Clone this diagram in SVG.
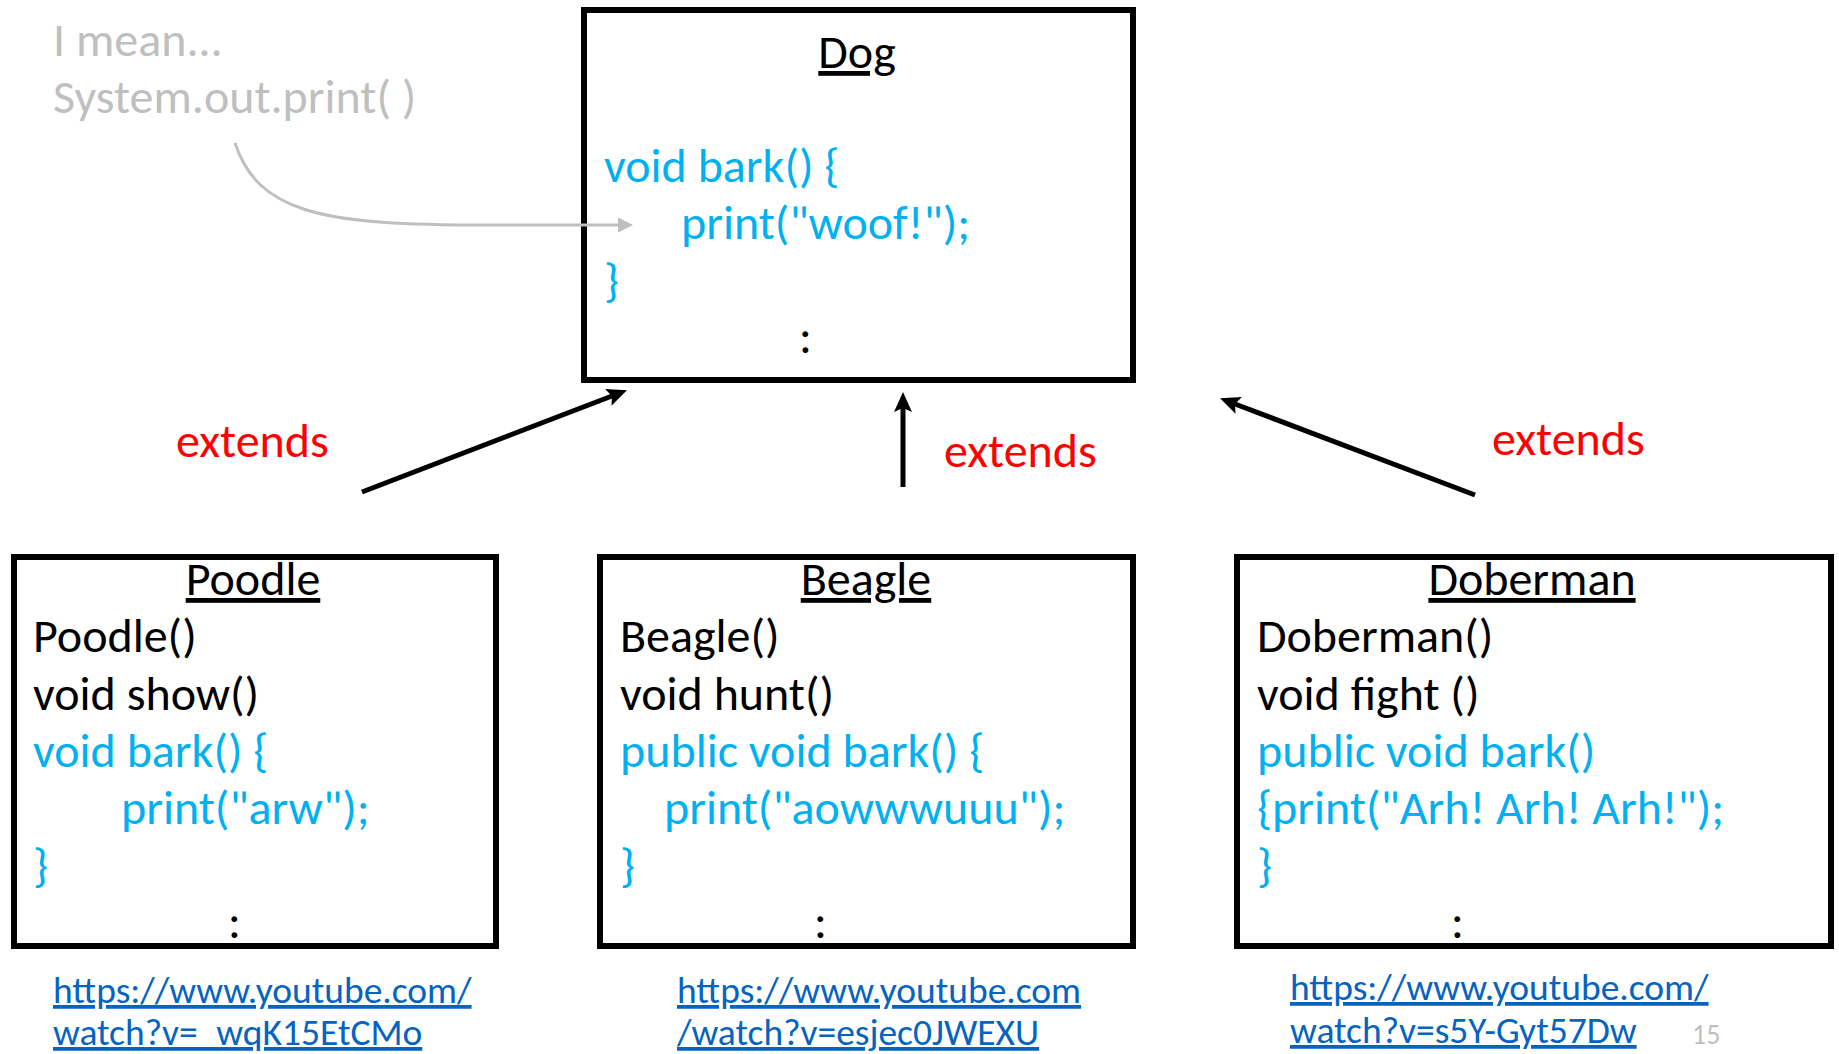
<svg xmlns="http://www.w3.org/2000/svg" width="1839" height="1054" viewBox="0 0 1839 1054">
  <style>
    text { font-family: Carlito, Lato, "Liberation Sans", sans-serif; font-size: 48px; }
    .k { fill: #000000; }
    .b { fill: #00b0f0; }
    .r { fill: #ff0000; }
    .g { fill: #bfbfbf; }
    .u { text-decoration: underline; }
    .mid { text-anchor: middle; }
    .lnk { fill: #0563c1; font-size: 37.5px; text-decoration: underline; }
    .pg { fill: #bfbfbf; font-size: 28px; }
    .box { fill: #ffffff; stroke: #000000; stroke-width: 6; }
    .edge { fill: none; stroke: #000000; stroke-width: 5; }
    .note { fill: none; stroke: #bfbfbf; stroke-width: 3; }
  </style>
  <defs>
    <marker id="head" viewBox="0 0 4 3.6" refX="0.8" refY="1.8" markerWidth="4" markerHeight="3.6" markerUnits="strokeWidth" orient="auto">
      <path d="M0,0 L4,1.8 L0,3.6 L0.8,1.8 Z" fill="#000000"/>
    </marker>
    <marker id="grayhead" viewBox="0 0 5 5" refX="0" refY="2.5" markerWidth="5" markerHeight="5" markerUnits="strokeWidth" orient="auto">
      <path d="M0,0 L5,2.5 L0,5 Z" fill="#bfbfbf"/>
    </marker>
  </defs>

  <rect width="1839" height="1054" fill="#ffffff"/>

  <!-- side note pointing at the print call -->
  <g id="note">
    <text class="g" x="53" y="56">I mean...</text>
    <text class="g" x="53" y="113">System.out.print( )</text>
  </g>

  <!-- superclass -->
  <g id="dog">
    <rect class="box" x="584" y="10" width="549" height="370"/>
    <text class="k u mid" x="857" y="68">Dog</text>
    <text class="b" x="604" y="182">void bark() {</text>
    <text class="b" x="681" y="239">print("woof!");</text>
    <text class="b" x="604" y="297">}</text>
    <text class="k" x="799" y="353">:</text>
  </g>

  <!-- subclasses -->
  <g id="poodle">
    <rect class="box" x="14" y="557" width="482" height="389"/>
    <text class="k u mid" x="253" y="595">Poodle</text>
    <text class="k" x="33" y="652">Poodle()</text>
    <text class="k" x="33" y="710">void show()</text>
    <text class="b" x="33" y="767">void bark() {</text>
    <text class="b" x="121" y="824">print("arw");</text>
    <text class="b" x="33" y="882">}</text>
    <text class="k" x="228" y="938">:</text>
  </g>

  <g id="beagle">
    <rect class="box" x="600" y="557" width="533" height="389"/>
    <text class="k u mid" x="866" y="595">Beagle</text>
    <text class="k" x="620" y="652">Beagle()</text>
    <text class="k" x="620" y="710">void hunt()</text>
    <text class="b" x="620" y="767">public void bark() {</text>
    <text class="b" x="664" y="824">print("aowwwuuu");</text>
    <text class="b" x="620" y="882">}</text>
    <text class="k" x="814" y="938">:</text>
  </g>

  <g id="doberman">
    <rect class="box" x="1237" y="557" width="594" height="389"/>
    <text class="k u mid" x="1532" y="595">Doberman</text>
    <text class="k" x="1257" y="652">Doberman()</text>
    <text class="k" x="1257" y="710">void fight ()</text>
    <text class="b" x="1257" y="767">public void bark()</text>
    <text class="b" x="1257" y="824">{print("Arh! Arh! Arh!");</text>
    <text class="b" x="1257" y="882">}</text>
    <text class="k" x="1451" y="938">:</text>
  </g>

  <!-- inheritance arrows and the note pointer -->
  <g id="connectors">
    <path class="note" d="M235,143 C258,212 320,224 470,225 L618,225" marker-end="url(#grayhead)"/>
    <line class="edge" x1="362" y1="492" x2="612" y2="396" marker-end="url(#head)"/>
    <line class="edge" x1="903" y1="487" x2="903" y2="408" marker-end="url(#head)"/>
    <line class="edge" x1="1475" y1="495" x2="1235" y2="404" marker-end="url(#head)"/>
  </g>

  <!-- arrow labels -->
  <g id="labels">
    <text class="r" x="176" y="457">extends</text>
    <text class="r" x="944" y="467">extends</text>
    <text class="r" x="1492" y="455">extends</text>
  </g>

  <!-- video links -->
  <g id="links">
    <text class="lnk" x="53" y="1003">https://www.youtube.com/</text>
    <text class="lnk" x="53" y="1045">watch?v=_wqK15EtCMo</text>
    <text class="lnk" x="677" y="1003">https://www.youtube.com</text>
    <text class="lnk" x="677" y="1045">/watch?v=esjec0JWEXU</text>
    <text class="lnk" x="1290" y="1000">https://www.youtube.com/</text>
    <text class="lnk" x="1290" y="1043">watch?v=s5Y-Gyt57Dw</text>
  </g>

  <text class="pg" x="1692" y="1044">15</text>
</svg>
